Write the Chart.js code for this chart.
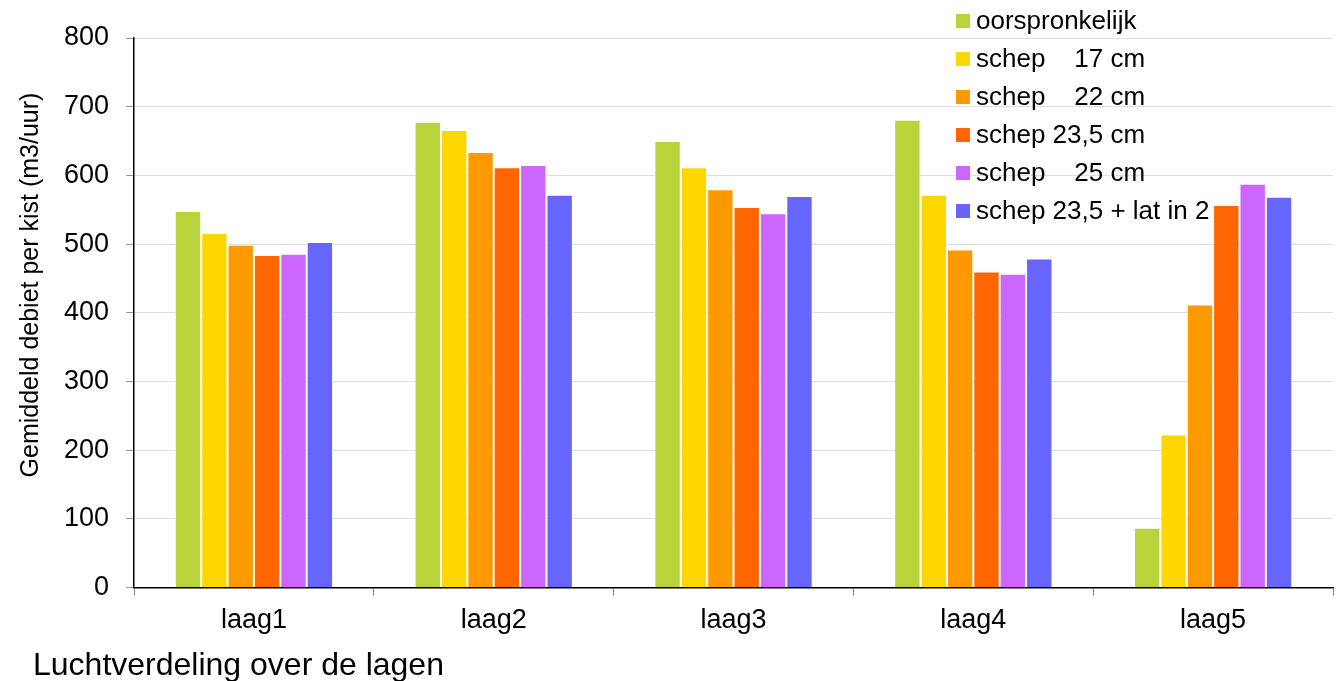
<!DOCTYPE html>
<html>
<head>
<meta charset="utf-8">
<script src="https://cdn.jsdelivr.net/npm/chart.js@4/dist/chart.umd.min.js"></script>
<style>
  html, body { margin: 0; padding: 0; background: #fff; }
  #wrap { position: relative; width: 1339px; height: 681px; font-family: "Liberation Sans", Arial, sans-serif; }
  #legenda { position: absolute; left: 956px; top: 1px; }
  .rij { display: flex; align-items: center; height: 38px; font-size: 26px; color: #000; white-space: pre; }
  .blokje { width: 14px; height: 14px; margin-right: 6px; margin-top: 2px; }
  #xtitel { position: absolute; left: 33px; top: 648px; font-size: 32px; line-height: 32px; color: #000; white-space: nowrap; }
</style>
</head>
<body>
<div id="wrap">
  <canvas id="debietChart"></canvas>
  <div id="legenda"></div>
  <div id="xtitel">Luchtverdeling over de lagen</div>
</div>
<script>
// gegevens
const lagen = ['laag1', 'laag2', 'laag3', 'laag4', 'laag5'];
const reeksNamen = ['oorspronkelijk', 'schep    17 cm', 'schep    22 cm', 'schep 23,5 cm', 'schep    25 cm', 'schep 23,5 + lat in 2'];

const oorspronkelijk = [548, 678, 650, 681, 87];
const schep17 = [516, 666, 612, 572, 223];
const schep22 = [499, 634, 580, 492, 412];
const schep235 = [484, 612, 554, 460, 557];
const schep25 = [486, 615, 545, 457, 588];
const schep235Lat = [503, 572, 570, 479, 569];

const yTicks = [0, 100, 200, 300, 400, 500, 600, 700, 800];

const kleuren = ['#B8D43A', '#FFD700', '#FF9900', '#FF6600', '#CC66FF', '#6666FF'];

let chart;

function inicializarGrafico() {
    const reeksen = [oorspronkelijk, schep17, schep22, schep235, schep25, schep235Lat];
    const ctx = document.getElementById('debietChart').getContext('2d');
    chart = new Chart(ctx, {
        type: 'bar',
        data: {
            labels: lagen,
            datasets: reeksen.map((waarden, i) => ({
                label: reeksNamen[i],
                data: waarden,
                backgroundColor: kleuren[i],
                borderColor: 'rgba(255,255,255,0.75)',
                borderWidth: 1,
                categoryPercentage: 0.66,
                barPercentage: 1.0
            }))
        },
        options: {
            responsive: true,
            maintainAspectRatio: false,
            animation: false,
            layout: { padding: { left: 16, right: 6, top: 38, bottom: 35 } },
            plugins: {
                legend: { display: false },
                tooltip: { enabled: false }
            },
            scales: {
                x: {
                    grid: {
                        drawOnChartArea: false,
                        offset: true,
                        tickLength: 8,
                        tickColor: '#888'
                    },
                    border: { color: '#000', width: 1.5 },
                    ticks: {
                        color: '#000',
                        padding: 9,
                        font: { family: 'Liberation Sans', size: 27 }
                    }
                },
                y: {
                    min: 0,
                    max: 800,
                    afterBuildTicks: (schaal) => {
                        schaal.ticks = yTicks.map(v => ({ value: v }));
                    },
                    grid: {
                        color: '#bdbdbd',
                        tickLength: 8,
                        tickColor: '#999'
                    },
                    border: { color: '#000', width: 1.5, dash: [1, 1] },
                    ticks: {
                        color: '#000',
                        padding: 17,
                        font: { family: 'Liberation Sans', size: 27 }
                    },
                    title: {
                        display: true,
                        text: '        Gemiddeld debiet per kist (m3/uur)',
                        color: '#000',
                        font: { family: 'Liberation Sans', size: 25, lineHeight: 1.2 },
                        padding: { top: 0, bottom: 1 }
                    }
                }
            }
        }
    });
}

function maakLegenda() {
    const doos = document.getElementById('legenda');
    chart.data.datasets.forEach(ds => {
        const rij = document.createElement('div');
        rij.className = 'rij';
        const blokje = document.createElement('span');
        blokje.className = 'blokje';
        blokje.style.background = ds.backgroundColor;
        const tekst = document.createElement('span');
        tekst.textContent = ds.label;
        rij.appendChild(blokje);
        rij.appendChild(tekst);
        doos.appendChild(rij);
    });
}

inicializarGrafico();
maakLegenda();
</script>
</body>
</html>
